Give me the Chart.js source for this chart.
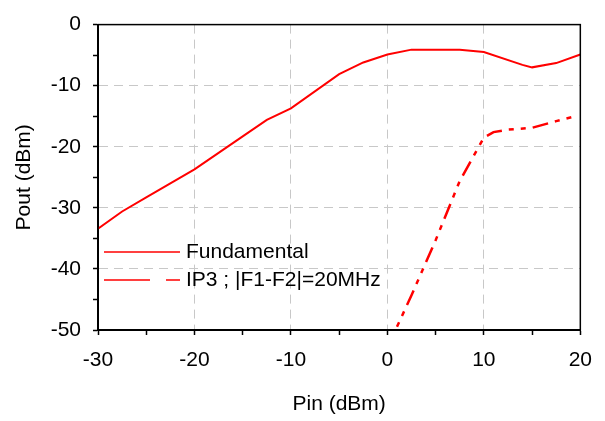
<!DOCTYPE html>
<html>
<head>
<meta charset="utf-8">
<script src="https://cdn.jsdelivr.net/npm/chart.js@4"></script>
<style>
  html, body { margin: 0; padding: 0; background: #fff; }
  canvas { display: block; }
</style>
</head>
<body>
<canvas id="pChart" width="605" height="421"></canvas>
<script>
// Pin (dBm) / Pout (dBm)
const fundPin  = [-30, -27.5, -25, -22.5, -20, -17.5, -15, -12.5, -10, -5, -2.5, 0, 2.5, 7.5, 10, 14, 15, 17.5, 20];
const fundPout = [-33.4, -30.6, -28.3, -26.0, -23.7, -21.0, -18.3, -15.6, -13.7, -8.1, -6.2, -4.9, -4.1, -4.1, -4.5, -6.6, -7.0, -6.3, -4.9];

const ip3Pin  = [0, 2.5, 5, 7.5, 10, 11, 12.5, 15, 17.5, 19.5];
const ip3Pout = [-52.9, -44.3, -35.3, -25.6, -18.5, -17.6, -17.2, -16.9, -15.8, -15.0];

const seriesNames = ["Fundamental", "IP3 ; |F1-F2|=20MHz"];
const xTicks = [-30, -20, -10, 0, 10, 20];
const yTicks = [0, -10, -20, -30, -40, -50];

const FONT = "'Liberation Sans', Arial, sans-serif";
const FSIZE = 21;
const RED = "#ff0000";

function toPoints(xs, ys) {
    return xs.map((x, i) => ({ x: x, y: ys[i] }));
}

// frame round the plot + legend inside the plot
const framePlugin = {
    id: 'frame',
    afterDraw(chart) {
        const { ctx, chartArea: a } = chart;
        ctx.save();
        ctx.strokeStyle = '#000';
        ctx.lineWidth = 1.5;
        ctx.strokeRect(a.left, a.top, a.right - a.left, a.bottom - a.top);

        const items = [
            { y: 252, dash: [] },
            { y: 280, dash: [46, 16, 14, 12] }
        ];
        ctx.font = FSIZE + "px " + FONT;
        ctx.textBaseline = 'middle';
        items.forEach((it, i) => {
            ctx.strokeStyle = RED;
            ctx.lineWidth = 1.5;
            ctx.setLineDash(it.dash);
            ctx.beginPath();
            ctx.moveTo(104, it.y);
            ctx.lineTo(180, it.y);
            ctx.stroke();
            ctx.setLineDash([]);
            ctx.fillStyle = '#000';
            ctx.fillText(seriesNames[i], 186, it.y);
        });
        ctx.restore();
    }
};

function gridColor(ctx, ends) {
    const v = ctx.tick ? ctx.tick.value : null;
    if (v === null || v % 10 !== 0 || ends.includes(v)) return 'rgba(0,0,0,0)';
    return '#c8c8c8';
}

new Chart(document.getElementById('pChart'), {
    type: 'line',
    data: {
        datasets: [
            {
                label: seriesNames[0],
                data: toPoints(fundPin, fundPout),
                borderColor: RED,
                borderWidth: 2,
                pointRadius: 0,
                tension: 0
            },
            {
                label: seriesNames[1],
                data: toPoints(ip3Pin, ip3Pout),
                borderColor: RED,
                borderWidth: 2.5,
                borderDash: [16, 7, 5, 7, 5, 7],
                pointRadius: 0,
                tension: 0
            }
        ]
    },
    options: {
        responsive: false,
        animation: false,
        layout: { padding: { top: 19, right: 24, left: 0, bottom: 0 } },
        plugins: {
            legend: { display: false },
            tooltip: { enabled: false }
        },
        scales: {
            x: {
                type: 'linear',
                min: -30,
                max: 20,
                afterFit: s => { s.height = 91; },
                ticks: {
                    stepSize: 5,
                    color: '#000',
                    font: { family: FONT, size: FSIZE },
                    padding: 13,
                    maxRotation: 0,
                    callback: v => xTicks.includes(v) ? String(v) : ''
                },
                grid: {
                    color: c => gridColor(c, [-30, 20]),
                    lineWidth: 1,
                    tickColor: '#000',
                    tickLength: 5,
                    tickWidth: 1.5
                },
                border: { color: '#000', width: 2, dash: [9, 6] },
                title: {
                    display: true,
                    text: 'Pin (dBm)',
                    color: '#000',
                    font: { family: FONT, size: FSIZE },
                    padding: { top: 10 }
                }
            },
            y: {
                min: -50,
                max: 0,
                afterFit: s => { s.width = 98; },
                ticks: {
                    stepSize: 5,
                    color: '#000',
                    font: { family: FONT, size: FSIZE },
                    padding: 12,
                    callback: v => yTicks.includes(v) ? String(v) : ''
                },
                grid: {
                    color: c => gridColor(c, [0, -50]),
                    lineWidth: 1,
                    tickColor: '#000',
                    tickLength: 5,
                    tickWidth: 1.5
                },
                border: { color: '#000', width: 2, dash: [9, 6] },
                title: {
                    display: true,
                    text: 'Pout (dBm)',
                    color: '#000',
                    font: { family: FONT, size: FSIZE },
                    padding: { top: 12, bottom: 0 }
                }
            }
        }
    },
    plugins: [framePlugin]
});
</script>
</body>
</html>
